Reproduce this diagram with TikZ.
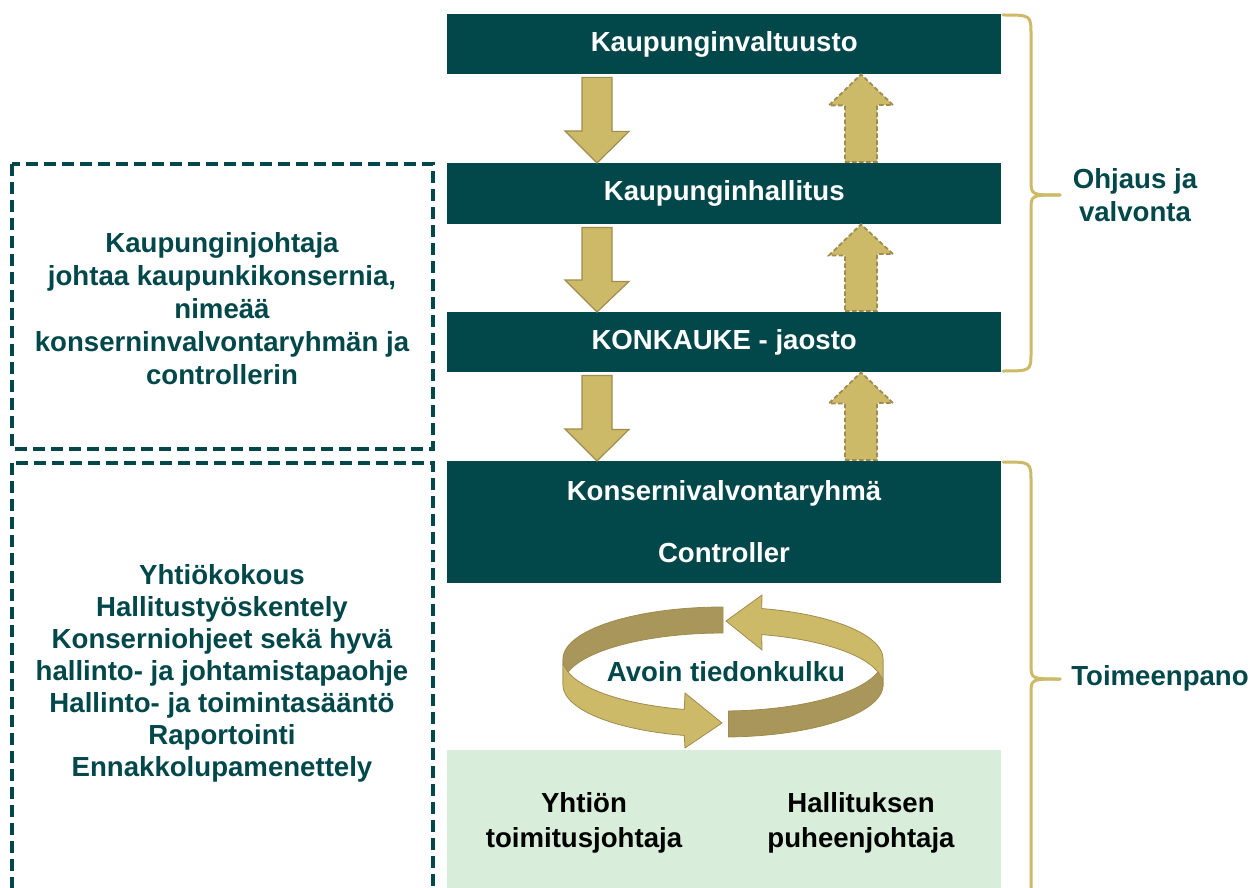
\documentclass[tikz,border=0pt]{standalone}
\usepackage{fontspec}
\setmainfont{Liberation Sans}
\usetikzlibrary{calc}
\definecolor{kteal}{RGB}{2,72,74}
\definecolor{kgold}{RGB}{204,186,104}
\definecolor{kgoldline}{RGB}{160,140,78}
\definecolor{kgolddark}{RGB}{168,150,90}
\definecolor{kgreen}{RGB}{216,238,218}
\tikzset{
  orgbox/.style={fill=kteal, text=white, font=\bfseries\fontsize{27.6}{32}\selectfont,
    minimum width=554, minimum height=60, inner sep=0, anchor=north west},
  whitetext/.style={text=white, font=\bfseries\fontsize{27.6}{32}\selectfont, inner sep=0},
  tealtext/.style={text=kteal, font=\bfseries\fontsize{27.6}{33}\selectfont, align=center, inner sep=0},
  dashbox/.style={draw=kteal, line width=3.5, dash pattern=on 12 off 6},
  downarrow/.style={fill=kgold, draw=kgoldline, line width=1.2, line join=miter},
  uparrow/.style={fill=kgold, draw=kgoldline, line width=1.8, dash pattern=on 4.5 off 2.5},
  bracestyle/.style={draw=kgold, line width=3, line cap=round},
  ringlight/.style={fill=kgold, draw=kgoldline, line width=0.8},
  ringdark/.style={fill=kgolddark, draw=kgoldline, line width=0.8}
}
\begin{document}
\begin{tikzpicture}[x=1pt,y=-1pt]
\useasboundingbox (0,0) rectangle (1251,888);
\clip (0,0) rectangle (1251,888);
\fill[white] (0,0) rectangle (1251,888);

% main boxes
\node[orgbox] (kv) at (447,14) {Kaupunginvaltuusto};
\node[orgbox, minimum height=61] (kh) at (447,163) {Kaupunginhallitus};
\node[orgbox] (kk) at (447,312) {KONKAUKE - jaosto};
\node[orgbox, minimum height=122] (kvr) at (447,461) {};
\node[whitetext] (kvrt) at (724,493) {Konsernivalvontaryhmä};
\node[whitetext] (ctl) at (724,553) {Controller};
\node[fill=kgreen, minimum width=554, minimum height=140, inner sep=0, anchor=north west] (bot) at (447,750) {};
\node[tealtext, text=black, font=\bfseries\fontsize{27.6}{34.5}\selectfont] (yt) at (584,823) {Yhtiön\\toimitusjohtaja};
\node[tealtext, text=black, font=\bfseries\fontsize{27.6}{34.5}\selectfont] (hp) at (861,823) {Hallituksen\\puheenjohtaja};

% block arrows between boxes
\foreach \a/\b in {kv/kh,kh/kk,kk/kvr}{
  \draw[downarrow] ($(\a.south west)+(135,3)$) -- ++(30,0) -- ++(0,54) -- ++(17,0)
     -- ($(\b.north west)+(150,0)$) -- ++(-32,-32) -- ++(17,0) -- cycle;
  \draw[uparrow] ($(\b.north west)+(398,-1)$) -- ++(32,0) -- ++(0,-57) -- ++(16,0)
     -- ($(\a.south west)+(414,0)$) -- ++(-32,31) -- ++(16,0) -- cycle;
}

% left dashed boxes
\draw[dashbox] (12,164) rectangle (433,449);
\draw[dashbox] (12,463) rectangle (433,905);
\node[tealtext] (kj) at (222,309) {Kaupunginjohtaja\\johtaa kaupunkikonsernia,\\nimeää\\konserninvalvontaryhmän ja\\controllerin};
\node[tealtext, font=\bfseries\fontsize{27.6}{32}\selectfont] (ohj) at (222,673) {Yhtiökokous\\Hallitustyöskentely\\Konserniohjeet sekä hyvä\\hallinto- ja johtamistapaohje\\Hallinto- ja toimintasääntö\\Raportointi\\Ennakkolupamenettely};

% braces
\draw[bracestyle] (1003,15) .. controls (1031,15) .. (1031,35) -- (1031,180)
   .. controls (1031,195) .. (1060,195);
\draw[bracestyle] (1060,195) .. controls (1031,195) .. (1031,210) -- (1031,352)
   .. controls (1031,371) .. (1003,371);
\draw[bracestyle] (1003,462) .. controls (1031,462) .. (1031,482) -- (1031,664)
   .. controls (1031,679) .. (1060,679);
\draw[bracestyle] (1060,679) .. controls (1031,679) .. (1031,694) -- (1031,900);
\node[tealtext] (ov) at (1135,195) {Ohjaus ja\\valvonta};
\node[tealtext] (tp) at (1160,678) {Toimeenpano};

% circular arrow
\path[ringdark] plot[domain=180:270, samples=40] ({723+160*cos(\x)},{659+52*sin(\x)})
   -- plot[domain=270:180, samples=40] ({723+160*cos(\x)},{685+52*sin(\x)}) -- cycle;
\path[ringdark] plot[domain=0:88, samples=40] ({723+160*cos(\x)},{659+52*sin(\x)})
   -- plot[domain=88:0, samples=40] ({723+160*cos(\x)},{685+52*sin(\x)}) -- cycle;
\path[ringlight] plot[domain=362:284, samples=40] ({723+160*cos(\x)},{659+52*sin(\x)})
   -- (762,595) -- (726,621) -- (762,650)
   -- plot[domain=284:362, samples=40] ({723+160*cos(\x)},{685+52*sin(\x)}) -- cycle;
\path[ringlight] plot[domain=180:104, samples=40] ({723+160*cos(\x)},{659+52*sin(\x)})
   -- (685,693) -- (722,723) -- (685,748)
   -- plot[domain=104:180, samples=40] ({723+160*cos(\x)},{685+52*sin(\x)}) -- cycle;
\node[tealtext] (avoin) at (726,672) {Avoin tiedonkulku};
\end{tikzpicture}
\end{document}
